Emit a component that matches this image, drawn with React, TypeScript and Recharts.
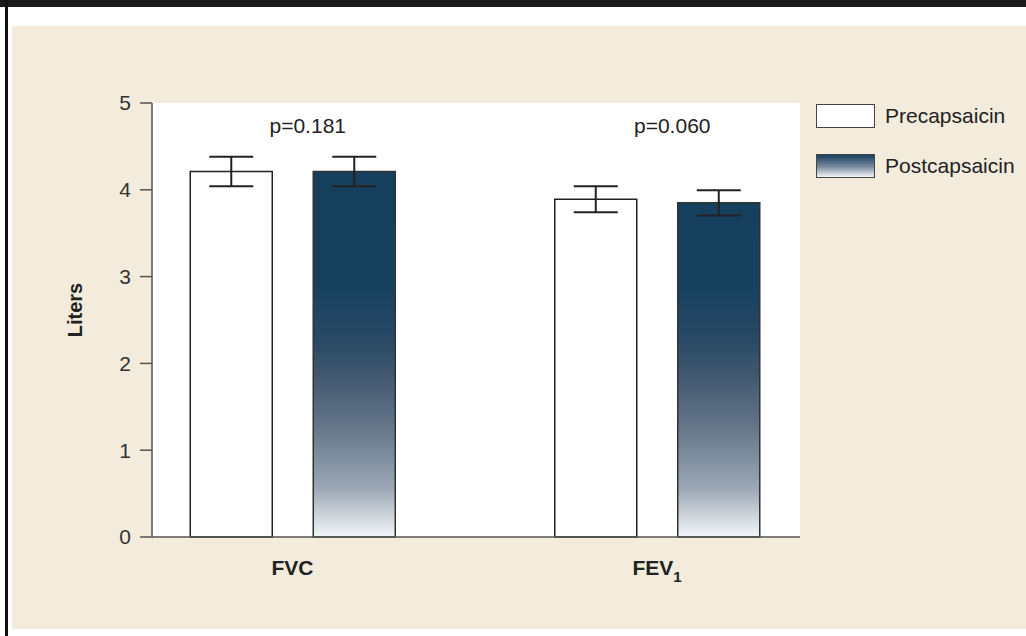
import {
  BarChart,
  Bar,
  XAxis,
  YAxis,
  CartesianGrid,
  ErrorBar,
  LabelList
} from 'recharts';

const categories = ['FVC', 'FEV1'];
const preValues = [4.21, 3.89];
const postValues = [4.21, 3.85];
const preErrors = [0.17, 0.15];
const postErrors = [0.17, 0.145];
const pLabels = ['p=0.181', 'p=0.060'];
const yTicks = [0, 1, 2, 3, 4, 5];
const seriesNames = ['Precapsaicin', 'Postcapsaicin'];

const data = categories.map((name, i) => ({
  pos: i,
  name,
  pre: preValues[i],
  post: postValues[i],
  preErr: preErrors[i],
  postErr: postErrors[i],
  p: pLabels[i]
}));

const FONT = '"Liberation Sans", Arial, Helvetica, sans-serif';
const BAR_GAP = 41;

function CategoryTick(props: any) {
  const { x, y, payload } = props;
  const name = categories[payload.value] ?? '';
  const isFev = name === 'FEV1';
  return (
    <text
      x={x}
      y={y + 30}
      textAnchor="middle"
      fontFamily={FONT}
      fontSize={21}
      fontWeight="bold"
      fill="#222"
    >
      {isFev ? 'FEV' : name}
      {isFev && (
        <tspan fontSize={15} dy={7}>
          1
        </tspan>
      )}
    </text>
  );
}

function PLabel(props: any) {
  const { x, value } = props;
  return (
    <text
      x={x - BAR_GAP / 2 + 15}
      y={133}
      textAnchor="middle"
      fontFamily={FONT}
      fontSize={21}
      fill="#222"
    >
      {value}
    </text>
  );
}

function LegendBox() {
  const row = (label: string, bg: string) => (
    <div key={label} style={{ display: 'flex', alignItems: 'center', height: 25, marginBottom: 25 }}>
      <div
        style={{
          width: 57,
          height: 22,
          background: bg,
          border: '1.5px solid #444',
          marginRight: 10
        }}
      />
      <span style={{ fontFamily: FONT, fontSize: 21, color: '#222' }}>{label}</span>
    </div>
  );
  return (
    <div style={{ position: 'absolute', left: 816, top: 103 }}>
      {row(seriesNames[0], '#fff')}
      {row(seriesNames[1], 'linear-gradient(#173f5e, #7d8ea2 55%, #f4f6f8)')}
    </div>
  );
}

export default function App() {
  return (
    <div
      style={{
        position: 'absolute',
        left: 0,
        top: 0,
        width: 1026,
        height: 636,
        background: '#fff',
        overflow: 'hidden'
      }}
    >
      <div style={{ position: 'absolute', left: 0, top: 0, width: 1026, height: 7, background: '#1a1a1a' }} />
      <div style={{ position: 'absolute', left: 5, top: 0, width: 3, height: 636, background: '#111' }} />
      <div
        style={{
          position: 'absolute',
          left: 12,
          top: 26,
          width: 1014,
          height: 603,
          background: '#f3ebdc'
        }}
      />
      <div style={{ position: 'absolute', left: 0, top: 0 }}>
        <BarChart
          width={1026}
          height={636}
          data={data}
          margin={{ top: 103, right: 226, left: 72, bottom: 49 }}
          barSize={82}
          barGap={BAR_GAP}
        >
          <defs>
            {/* fade toward the baseline, same absolute position for both bars */}
            <linearGradient id="postGrad" gradientUnits="userSpaceOnUse" x1="0" y1="103" x2="0" y2="537">
              <stop offset="0" stopColor="#163f5e" />
              <stop offset="0.42" stopColor="#17405f" />
              <stop offset="0.55" stopColor="#2a4a66" />
              <stop offset="0.62" stopColor="#3f566e" />
              <stop offset="0.73" stopColor="#5f7185" />
              <stop offset="0.885" stopColor="#9aa6b3" />
              <stop offset="1" stopColor="#f4f6f8" />
            </linearGradient>
          </defs>
          <CartesianGrid fill="#fff" stroke="none" />
          <XAxis
            dataKey="pos"
            type="number"
            domain={[-0.3855, 1.3923]}
            ticks={[0, 1]}
            height={50}
            axisLine={{ stroke: '#555', strokeWidth: 1.5 }}
            tickLine={false}
            tick={<CategoryTick />}
          />
          <YAxis
            type="number"
            domain={[0, 5]}
            ticks={yTicks}
            width={80}
            tickSize={12}
            tickMargin={9}
            axisLine={{ stroke: '#555', strokeWidth: 1.5 }}
            tickLine={{ stroke: '#555', strokeWidth: 1.5 }}
            tick={{ fontFamily: FONT, fontSize: 21, fill: '#333' }}
            label={{
              content: (p: any) => {
                const vb = p.viewBox;
                const cx = vb.x + 3;
                const cy = vb.y + vb.height / 2 - 10;
                return (
                  <text
                    x={cx}
                    y={cy}
                    transform={`rotate(-90 ${cx} ${cy})`}
                    textAnchor="middle"
                    dominantBaseline="central"
                    fontFamily={FONT}
                    fontSize={20}
                    fontWeight="bold"
                    fill="#222"
                  >
                    Liters
                  </text>
                );
              }
            }}
          />
          <Bar dataKey="pre" name={seriesNames[0]} fill="#fff" stroke="#222" strokeWidth={1.5} isAnimationActive={false}>
            <ErrorBar dataKey="preErr" width={22} stroke="#222" strokeWidth={2} />
          </Bar>
          <Bar dataKey="post" name={seriesNames[1]} fill="url(#postGrad)" stroke="#333" strokeWidth={1.5} isAnimationActive={false}>
            <ErrorBar dataKey="postErr" width={22} stroke="#222" strokeWidth={2} />
            <LabelList dataKey="p" content={<PLabel />} />
          </Bar>
        </BarChart>
      </div>
      <LegendBox />
    </div>
  );
}
